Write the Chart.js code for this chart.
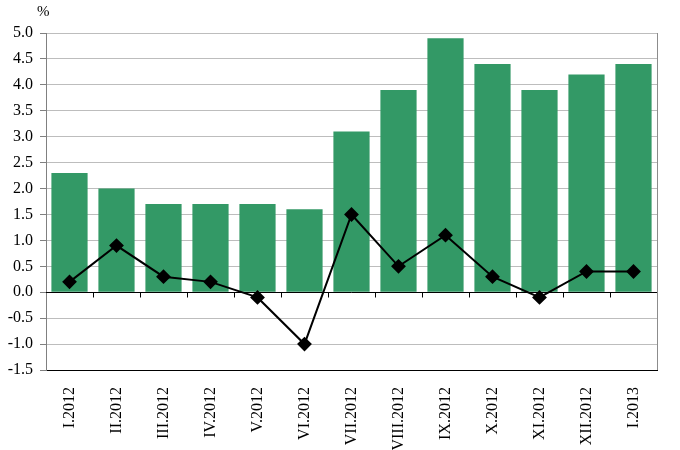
<!DOCTYPE html>
<html>
<head>
<meta charset="utf-8">
<script src="https://cdn.jsdelivr.net/npm/chart.js"></script>
<style>
  html, body { margin: 0; padding: 0; background: #fff; }
  #wrap { width: 680px; height: 450px; }
</style>
</head>
<body>
<div id="wrap"><canvas id="chart"></canvas></div>
<script>
// Months shown on the category axis
const months = ['I.2012', 'II.2012', 'III.2012', 'IV.2012', 'V.2012', 'VI.2012',
  'VII.2012', 'VIII.2012', 'IX.2012', 'X.2012', 'XI.2012', 'XII.2012', 'I.2013'];

// Bar series (green columns)
const barValues = [2.3, 2.0, 1.7, 1.7, 1.7, 1.6, 3.1, 3.9, 4.9, 4.4, 3.9, 4.2, 4.4];

// Line series (black diamonds)
const lineValues = [0.2, 0.9, 0.3, 0.2, -0.1, -1.0, 1.5, 0.5, 1.1, 0.3, -0.1, 0.4, 0.4];

const yMin = -1.5;
const yMax = 5.0;
const yStep = 0.5;

const serif = '"Liberation Serif", "Times New Roman", serif';

// Zero line with category tick marks, right border and the "%" caption
const framePlugin = {
  id: 'frame',
  beforeDatasetsDraw(chart) {
    const { ctx, chartArea, scales } = chart;
    const y0 = Math.round(scales.y.getPixelForValue(0)) + 0.5;
    ctx.save();
    ctx.strokeStyle = '#000';
    ctx.lineWidth = 1;
    ctx.beginPath();
    ctx.moveTo(chartArea.left, y0);
    ctx.lineTo(chartArea.right, y0);
    const step = (chartArea.right - chartArea.left) / months.length;
    for (let i = 1; i < months.length; i++) {
      const px = Math.round(chartArea.left + step * i) + 0.5;
      ctx.moveTo(px, y0);
      ctx.lineTo(px, y0 + 5);
    }
    ctx.stroke();
    // right border
    ctx.strokeStyle = '#8c8c8c';
    ctx.beginPath();
    ctx.moveTo(chartArea.right + 0.5, chartArea.top);
    ctx.lineTo(chartArea.right + 0.5, chartArea.bottom);
    ctx.stroke();
    ctx.restore();
  },
  afterDraw(chart) {
    const { ctx, chartArea } = chart;
    ctx.save();
    ctx.fillStyle = '#000';
    ctx.font = '15px ' + serif;
    ctx.textAlign = 'left';
    ctx.textBaseline = 'alphabetic';
    ctx.fillText('%', chartArea.left - 9, 16);
    ctx.restore();
  }
};

new Chart(document.getElementById('chart'), {
  data: {
    labels: months,
    datasets: [
      {
        type: 'line',
        data: lineValues,
        borderColor: '#000',
        backgroundColor: '#000',
        borderWidth: 2,
        pointStyle: 'rectRot',
        pointRadius: 6,
        pointHoverRadius: 6,
        tension: 0,
        order: 0
      },
      {
        type: 'bar',
        data: barValues,
        backgroundColor: '#339966',
        borderWidth: 0,
        barPercentage: 0.77,
        categoryPercentage: 1.0,
        order: 1
      }
    ]
  },
  options: {
    responsive: true,
    maintainAspectRatio: false,
    animation: false,
    layout: { padding: { top: 33, right: 23, left: 4, bottom: 0 } },
    plugins: {
      legend: { display: false },
      tooltip: { enabled: false }
    },
    scales: {
      x: {
        grid: { display: false },
        border: { display: true, color: '#000', width: 1 },
        ticks: {
          color: '#000',
          font: { family: serif, size: 16 },
          minRotation: 90,
          maxRotation: 90,
          padding: 9,
          autoSkip: false
        },
        afterFit(scale) { scale.height = 80; }
      },
      y: {
        min: yMin,
        max: yMax,
        ticks: {
          stepSize: yStep,
          color: '#000',
          font: { family: serif, size: 16 },
          padding: 7,
          callback: (v) => Number(v).toFixed(1)
        },
        grid: { color: '#bdbdbd', tickLength: 6, tickColor: '#808080' },
        border: { display: true, color: '#808080', width: 1 },
        afterFit(scale) { scale.width = 42; }
      }
    }
  },
  plugins: [framePlugin]
});
</script>
</body>
</html>
